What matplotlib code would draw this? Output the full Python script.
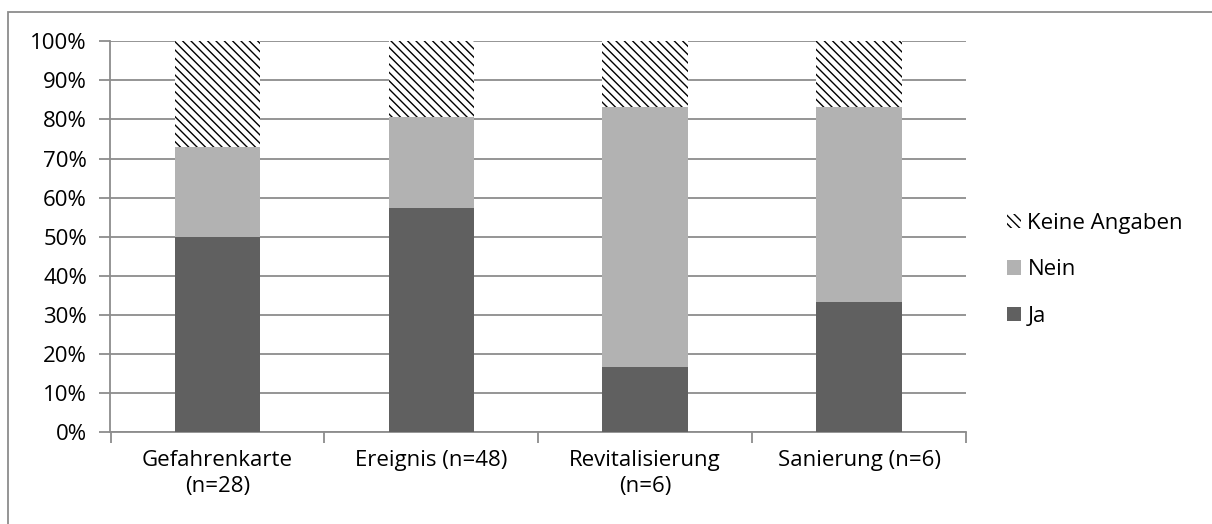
import matplotlib.pyplot as plt
from matplotlib.patches import Rectangle
from matplotlib.ticker import FixedLocator, PercentFormatter
import numpy as np

categories = ["Gefahrenkarte\n(n=28)", "Ereignis (n=48)", "Revitalisierung\n(n=6)", "Sanierung (n=6)"]
ja = [50.0, 57.4, 16.7, 33.3]
nein = [23.0, 23.3, 66.6, 50.0]
keine_angaben = [27.0, 19.3, 16.7, 16.7]

plt.rcParams['font.family'] = ['Open Sans', 'DejaVu Sans']
plt.rcParams['hatch.linewidth'] = 1.0
plt.rcParams['hatch.color'] = 'black'

grid_col = '#8c8c8c'
fs = 16

fig = plt.figure(figsize=(12.12, 5.24), dpi=100)
ax = fig.add_axes([110.5 / 1212, 1 - 432 / 524, (966 - 110.5) / 1212, (432 - 41.3) / 524])

x = np.arange(len(categories))
ja_arr = np.array(ja)
nein_arr = np.array(nein)
b1 = ax.bar(x, ja, width=0.4, color='#606060', label='Ja', zorder=3)
b2 = ax.bar(x, nein, width=0.4, bottom=ja_arr, color='#b2b2b2', label='Nein', zorder=3)
b3 = ax.bar(x, keine_angaben, width=0.4, bottom=ja_arr + nein_arr, color='white',
            hatch='\\\\\\\\', edgecolor='black', linewidth=0, label='Keine Angaben', zorder=3)

ax.set_xlim(-0.5, len(categories) - 0.5)
ax.set_ylim(0, 100)
ax.set_yticks(np.arange(0, 101, 10))
ax.yaxis.set_major_formatter(PercentFormatter(decimals=0))
ax.yaxis.grid(True, color=grid_col, linewidth=1.3, zorder=0)

ax.set_xticks(x)
ax.set_xticklabels(categories, linespacing=1.3)
ax.xaxis.set_minor_locator(FixedLocator(np.arange(-0.5, len(categories), 1.0)))
ax.tick_params(axis='x', which='major', length=0, pad=13, labelsize=fs)
ax.tick_params(axis='x', which='minor', length=8, width=1.3, color=grid_col, direction='out')
ax.tick_params(axis='y', length=8, width=1.3, color=grid_col, labelsize=fs, pad=9)

for s in ['top', 'right']:
    ax.spines[s].set_visible(False)
for s in ['left', 'bottom']:
    ax.spines[s].set_color(grid_col)
    ax.spines[s].set_linewidth(1.3)

handles = [b3, b2, b1]
ax.legend(handles, ['Keine Angaben', 'Nein', 'Ja'], loc='center left',
          bbox_to_anchor=(1.025, 0.415), frameon=False, fontsize=fs,
          handlelength=0.6, handleheight=0.6, handletextpad=0.3, labelspacing=1.15)

# chart border
fig.patches.append(Rectangle((8 / 1212, -0.1), 1.2, 1.1 - 12 / 524, transform=fig.transFigure,
                             fill=False, edgecolor='#8c8c8c', linewidth=1.3))

fig.savefig('out.png', dpi=100)
